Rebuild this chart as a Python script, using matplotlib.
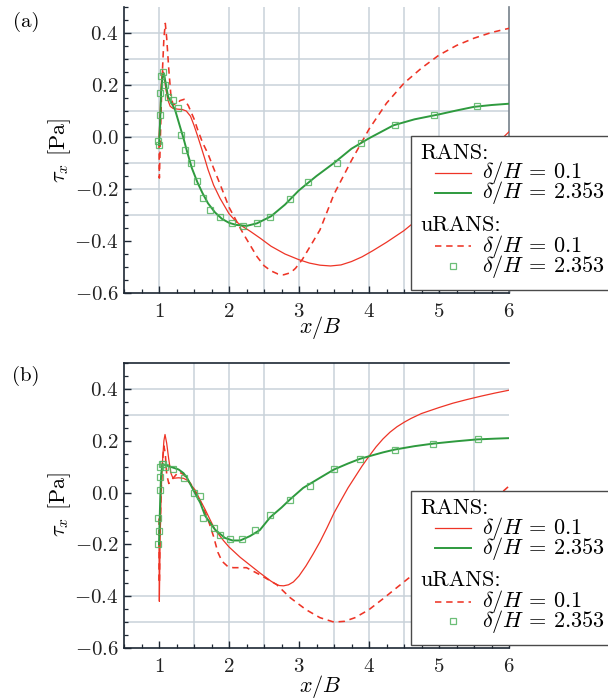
import matplotlib
matplotlib.use("Agg")
import matplotlib.pyplot as plt
from matplotlib.patches import Rectangle
from matplotlib.ticker import MultipleLocator, FixedLocator

plt.rcParams.update({
    "font.family": "serif",
    "font.serif": ["cmr10"],
    "mathtext.fontset": "cm",
    "axes.formatter.use_mathtext": True,
})

ROT = "#ee3426"
GRUEN = "#2e9a3e"
MARKER_GRUEN = "#52b35f"
GITTER = "#c9d2da"
ACHSE = "#1d2733"

# ---------------- (a) ----------------
a_rans01_x = [1.0, 1.01, 1.02, 1.03, 1.05, 1.07, 1.1, 1.13, 1.16, 1.2, 1.27, 1.33,
              1.39, 1.45, 1.5, 1.55, 1.6, 1.65, 1.7, 1.78, 1.87, 2.0, 2.1, 2.2,
              2.3, 2.45, 2.6, 2.8, 3.0, 3.15, 3.3, 3.45, 3.6, 3.75, 3.9, 4.05,
              4.25, 4.5, 4.75, 5.0, 5.25, 5.5, 5.75, 6.0]
a_rans01_y = [0.0, 0.05, 0.12, 0.2, 0.258, 0.24, 0.18, 0.14, 0.118, 0.11, 0.107, 0.106,
              0.1, 0.08, 0.045, 0.005, -0.037, -0.08, -0.125, -0.185, -0.235, -0.295, -0.325, -0.345,
              -0.362, -0.39, -0.42, -0.45, -0.472, -0.485, -0.493, -0.496, -0.492, -0.479, -0.461, -0.438,
              -0.405, -0.36, -0.305, -0.243, -0.176, -0.11, -0.045, 0.02]

a_rans2353_x = [1.0, 1.01, 1.02, 1.03, 1.05, 1.07, 1.1, 1.13, 1.17, 1.23, 1.3, 1.35,
                1.4, 1.47, 1.55, 1.62, 1.7, 1.8, 1.9, 2.0, 2.1, 2.25, 2.4, 2.6,
                2.8, 3.0, 3.25, 3.5, 3.75, 4.0, 4.35, 4.65, 5.0, 5.25, 5.5, 5.75, 6.0]
a_rans2353_y = [-0.03, 0.02, 0.09, 0.17, 0.23, 0.245, 0.2, 0.155, 0.135, 0.104, 0.04, -0.005,
                -0.055, -0.12, -0.175, -0.215, -0.255, -0.29, -0.315, -0.33, -0.338, -0.342, -0.332, -0.305,
                -0.26, -0.205, -0.15, -0.1, -0.045, -0.005, 0.045, 0.068, 0.087, 0.102, 0.116, 0.123, 0.128]

a_urans01_x = [1.0, 1.005, 1.02, 1.04, 1.07, 1.09, 1.11, 1.14, 1.17, 1.2, 1.25, 1.3,
               1.36, 1.42, 1.5, 1.55, 1.62, 1.7, 1.78, 1.87, 1.95, 2.0, 2.1, 2.2,
               2.3, 2.4, 2.5, 2.6, 2.7, 2.78, 2.88, 2.95, 3.05, 3.15, 3.3, 3.5,
               3.75, 4.0, 4.25, 4.5, 4.75, 5.0, 5.25, 5.5, 5.75, 6.0]
a_urans01_y = [-0.02, -0.158, 0.0, 0.2, 0.38, 0.437, 0.38, 0.26, 0.16, 0.125, 0.125, 0.14,
               0.145, 0.12, 0.07, 0.03, -0.02, -0.065, -0.12, -0.18, -0.235, -0.27, -0.32, -0.37,
               -0.415, -0.46, -0.495, -0.515, -0.527, -0.53, -0.522, -0.505, -0.47, -0.425, -0.357, -0.22,
               -0.09, 0.03, 0.13, 0.207, 0.265, 0.315, 0.352, 0.38, 0.402, 0.418]

a_urans2353_x = [0.98, 1.0, 1.01, 1.01, 1.03, 1.06, 1.09, 1.13, 1.2, 1.27, 1.32, 1.37,
                 1.45, 1.54, 1.63, 1.73, 1.87, 2.04, 2.2, 2.4, 2.59, 2.87, 3.13, 3.54,
                 3.88, 4.37, 4.93, 5.54]
a_urans2353_y = [-0.015, -0.03, 0.085, 0.17, 0.235, 0.25, 0.2, 0.155, 0.142, 0.11, 0.008, -0.05,
                 -0.1, -0.17, -0.236, -0.28, -0.306, -0.33, -0.342, -0.33, -0.306, -0.24, -0.175, -0.1,
                 -0.024, 0.045, 0.085, 0.12]

# ---------------- (b) ----------------
b_rans01_x = [1.0, 1.005, 1.015, 1.03, 1.05, 1.07, 1.086, 1.11, 1.14, 1.17, 1.2, 1.28,
              1.35, 1.4, 1.51, 1.6, 1.66, 1.73, 1.8, 1.92, 2.0, 2.16, 2.3, 2.44,
              2.52, 2.6, 2.66, 2.72, 2.78, 2.85, 2.92, 3.0, 3.1, 3.2, 3.3, 3.4,
              3.5, 3.6, 3.7, 3.8, 3.9, 4.0, 4.1, 4.2, 4.3, 4.4, 4.5, 4.6,
              4.75, 5.0, 5.2, 5.4, 5.6, 5.8, 6.0]
b_rans01_y = [-0.2, -0.42, -0.2, 0.0, 0.12, 0.2, 0.224, 0.19, 0.127, 0.075, 0.055, 0.057,
              0.055, 0.048, 0.012, -0.035, -0.066, -0.105, -0.143, -0.185, -0.21, -0.25, -0.28, -0.31,
              -0.326, -0.342, -0.352, -0.359, -0.36, -0.356, -0.345, -0.322, -0.283, -0.238, -0.19, -0.136,
              -0.079, -0.03, 0.018, 0.06, 0.102, 0.14, 0.176, 0.207, 0.233, 0.254, 0.271, 0.286,
              0.305, 0.328, 0.345, 0.359, 0.372, 0.384, 0.395]

b_rans2353_x = [1.0, 1.01, 1.02, 1.03, 1.05, 1.08, 1.16, 1.28, 1.35, 1.4, 1.51, 1.59,
                1.66, 1.8, 1.94, 2.05, 2.16, 2.3, 2.44, 2.59, 2.75, 2.87, 3.06, 3.3,
                3.5, 3.7, 3.87, 4.0, 4.2, 4.37, 4.65, 4.92, 5.25, 5.54, 5.8, 6.0]
b_rans2353_y = [-0.2, -0.1, 0.0, 0.07, 0.11, 0.107, 0.1, 0.089, 0.075, 0.057, 0.0, -0.04,
                -0.09, -0.143, -0.175, -0.185, -0.185, -0.168, -0.145, -0.095, -0.058, -0.027, 0.018, 0.057,
                0.089, 0.112, 0.13, 0.14, 0.155, 0.166, 0.179, 0.189, 0.198, 0.205, 0.208, 0.21]

b_urans01_x = [1.0, 1.005, 1.015, 1.03, 1.05, 1.07, 1.09, 1.11, 1.14, 1.2, 1.28, 1.35,
               1.45, 1.55, 1.65, 1.72, 1.78, 1.84, 1.9, 1.98, 2.06, 2.25, 2.44, 2.68,
               2.87, 3.1, 3.3, 3.5, 3.65, 3.8, 4.0, 4.2, 4.36, 4.6, 4.8, 5.0,
               5.25, 5.5, 5.75, 6.0]
b_urans01_y = [-0.1, -0.35, -0.15, 0.0, 0.12, 0.18, 0.15, 0.07, 0.035, 0.055, 0.08, 0.07,
               0.035, -0.01, -0.07, -0.12, -0.17, -0.23, -0.265, -0.285, -0.29, -0.29, -0.317, -0.355,
               -0.405, -0.452, -0.483, -0.5, -0.497, -0.483, -0.452, -0.41, -0.375, -0.323, -0.275, -0.225,
               -0.16, -0.095, -0.035, 0.025]

b_urans2353_x = [0.99, 0.99, 1.0, 1.01, 1.01, 1.02, 1.04, 1.06, 1.09, 1.2, 1.35, 1.5,
                 1.59, 1.63, 1.78, 1.87, 2.01, 2.18, 2.37, 2.59, 2.87, 3.16, 3.5, 3.87,
                 4.37, 4.92, 5.55]
b_urans2353_y = [-0.2, -0.1, -0.15, 0.01, 0.06, 0.1, 0.11, 0.11, 0.1, 0.09, 0.057, 0.0,
                 -0.014, -0.097, -0.135, -0.162, -0.18, -0.18, -0.143, -0.088, -0.03, 0.027, 0.089, 0.131,
                 0.163, 0.189, 0.205]

y_ticks = [-0.6, -0.4, -0.2, 0.0, 0.2, 0.4]
x_ticks = [1, 2, 3, 4, 5, 6]

# Gitterlinien, wie sie im Export stehen geblieben sind
a_gitter_x = [1, 2, 2.5, 3, 4, 4.5, 5]
a_gitter_y = [-0.3, -0.2, -0.1, 0.0, 0.1, 0.2, 0.3, 0.4]
b_gitter_x = [1.5, 2, 2.5, 3.5, 4, 4.5, 5.5]
b_gitter_y = [-0.5, -0.4, 0.3, 0.4]

legende_zeilen = ["RANS:", r"$\delta/H \,=\, 0.1$", r"$\delta/H \,=\, 2.353$",
                  "uRANS:", r"$\delta/H \,=\, 0.1$", r"$\delta/H \,=\, 2.353$"]

stil_rans01 = dict(color=ROT, lw=0.9)
stil_rans2353 = dict(color=GRUEN, lw=1.4)
stil_urans01 = dict(color=ROT, lw=1.15, linestyle=(0, (4, 3)))
stil_urans2353 = dict(color=MARKER_GRUEN, lw=0, marker="s", markersize=4.3,
                      markerfacecolor="none", markeredgewidth=0.9, alpha=0.85)


def achse_einrichten(ax, gitter_x, gitter_y, oben, rechts):
    ax.set_xlim(0.5, 6)
    ax.set_ylim(-0.6, 0.5)
    for gx in gitter_x:
        ax.axvline(gx, color=GITTER, lw=1.1, zorder=0)
    for gy in gitter_y:
        ax.axhline(gy, color=GITTER, lw=1.1, zorder=0)
    ax.xaxis.set_major_locator(FixedLocator(x_ticks))
    ax.xaxis.set_minor_locator(MultipleLocator(0.25))
    ax.yaxis.set_major_locator(FixedLocator(y_ticks))
    ax.yaxis.set_minor_locator(MultipleLocator(0.05))
    ax.tick_params(which="both", direction="in", top=False, right=False,
                   color=ACHSE, labelsize=15, labelcolor="#222222")
    ax.tick_params(which="major", length=5, width=1.0)
    ax.tick_params(which="minor", length=3, width=0.9)
    ax.tick_params(axis="x", pad=7)
    ax.tick_params(axis="y", pad=4)
    for s in ("left", "bottom"):
        ax.spines[s].set_color(ACHSE)
        ax.spines[s].set_linewidth(1.2)
    ax.spines["top"].set_visible(oben)
    ax.spines["top"].set_color(ACHSE)
    ax.spines["top"].set_linewidth(1.2)
    ax.spines["right"].set_visible(rechts)
    ax.spines["right"].set_color("#76808a")
    ax.spines["right"].set_linewidth(1.2)


def kurven(ax, r01x, r01y, r23x, r23y, u01x, u01y, u23x, u23y):
    ax.plot(r01x, r01y, zorder=3, **stil_rans01)
    ax.plot(u01x, u01y, zorder=3, **stil_urans01)
    ax.plot(r23x, r23y, zorder=4, **stil_rans2353)
    ax.plot(u23x, u23y, zorder=5, **stil_urans2353)


def legende(ax):
    # Kasten ragt rechts ueber die Achse hinaus
    ax.add_patch(Rectangle((0.745, 0.01), 0.53, 0.54, transform=ax.transAxes,
                           facecolor="white", edgecolor="#4a4a4a", lw=1.0,
                           clip_on=False, zorder=10))
    zeilen_y = [0.49, 0.42, 0.35, 0.238, 0.163, 0.093]
    stile = [None, stil_rans01, stil_rans2353, None, stil_urans01, stil_urans2353]
    for text, y, stil in zip(legende_zeilen, zeilen_y, stile):
        if stil is None:
            ax.text(0.77, y, text, transform=ax.transAxes, fontsize=16,
                    ha="left", va="center", zorder=11, clip_on=False)
            continue
        if stil.get("marker"):
            ax.plot([0.855], [y], transform=ax.transAxes, clip_on=False,
                    zorder=11, **stil)
        else:
            ax.plot([0.808, 0.902], [y, y], transform=ax.transAxes,
                    clip_on=False, zorder=11, **stil)
        ax.text(0.93, y, text, transform=ax.transAxes, fontsize=16,
                ha="left", va="center", zorder=11, clip_on=False)


fig = plt.figure(figsize=(6.08, 6.98), dpi=100)
ax_a = fig.add_axes([124 / 608, 1 - 293 / 698, 385 / 608, 286 / 698])
ax_b = fig.add_axes([124 / 608, 1 - 648 / 698, 385 / 608, 285 / 698])

achse_einrichten(ax_a, a_gitter_x, a_gitter_y, oben=False, rechts=True)
achse_einrichten(ax_b, b_gitter_x, b_gitter_y, oben=True, rechts=False)

kurven(ax_a, a_rans01_x, a_rans01_y, a_rans2353_x, a_rans2353_y,
       a_urans01_x, a_urans01_y, a_urans2353_x, a_urans2353_y)
kurven(ax_b, b_rans01_x, b_rans01_y, b_rans2353_x, b_rans2353_y,
       b_urans01_x, b_urans01_y, b_urans2353_x, b_urans2353_y)

legende(ax_a)
legende(ax_b)

# Achsenbeschriftungen und Panel-Marken
for y_lab, y_x, y_pan in [(150, 328, 22), (504, 686, 376)]:
    fig.text(60 / 608, 1 - y_lab / 698, r"$\tau_x$ [Pa]", rotation=90,
             fontsize=16, ha="center", va="center")
    fig.text(320 / 608, 1 - y_x / 698, r"$x/B$", fontsize=16,
             ha="center", va="center")
    fig.text(26 / 608, 1 - y_pan / 698, "(a)" if y_pan < 100 else "(b)",
             fontsize=15, ha="center", va="center")

fig.savefig("out.png", dpi=100)
